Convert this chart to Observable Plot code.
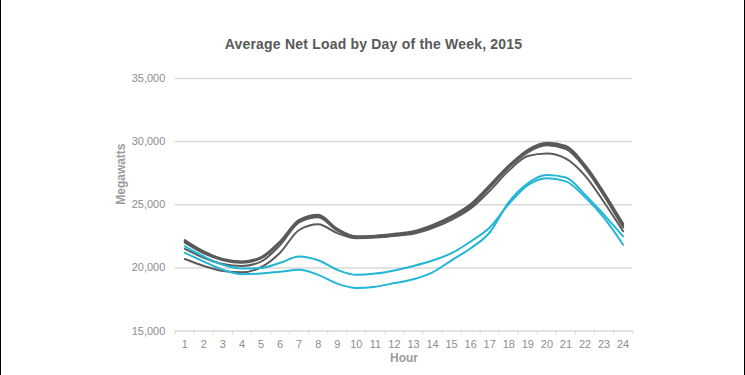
<!DOCTYPE html>
<html>
<head>
<meta charset="utf-8">
<script src="https://cdn.jsdelivr.net/npm/d3@7"></script>
<script src="https://cdn.jsdelivr.net/npm/@observablehq/plot@0.6"></script>
<style>
  html, body { margin: 0; padding: 0; background: #fff; }
  #wrap { position: relative; width: 745px; height: 375px; box-sizing: border-box;
          border-left: 1px solid #000; border-right: 1px solid #000; overflow: hidden;
          font-family: "Liberation Sans", Arial, sans-serif; }
  #title { position: absolute; top: 36px; left: 0; width: 745px; text-align: center;
           font-size: 14px; font-weight: bold; color: #595959; letter-spacing: 0.2px; }
  #chart { position: absolute; top: 0; left: -1px; }
  #chart svg text { font-family: "Liberation Sans", Arial, sans-serif; }
</style>
</head>
<body>
<div id="wrap">
  <div id="title">Average Net Load by Day of the Week, 2015</div>
  <div id="chart"></div>
</div>
<script>
const hours = [1,2,3,4,5,6,7,8,9,10,11,12,13,14,15,16,17,18,19,20,21,22,23,24];
const yTicks = [15000, 20000, 25000, 30000, 35000];
const days = ["Monday","Tuesday","Wednesday","Thursday","Friday","Saturday","Sunday"];
const weekdays = ["Monday","Tuesday","Wednesday","Thursday","Friday"];
const yLabel = "Megawatts";
const xLabel = "Hour";

const monday    = [20700,20150,19750,19650,20050,21200,23000,23450,22750,22350,22400,22550,22750,23250,23950,24850,26350,27950,29150,29700,29400,27900,25700,23200];
const tuesday   = [21500,20800,20300,20150,20500,21800,23600,24000,22950,22400,22450,22600,22800,23300,24000,24950,26450,28000,29250,29800,29550,28050,25850,23350];
const wednesday = [22100,21200,20650,20450,20800,22050,23750,24150,23050,22450,22500,22650,22850,23350,24050,25000,26500,28050,29300,29850,29600,28100,25900,23400];
const thursday  = [22200,21300,20700,20500,20850,22100,23800,24200,23100,22500,22550,22700,22900,23400,24100,25050,26550,28100,29350,29900,29650,28150,25950,23500];
const friday    = [22000,21150,20600,20400,20750,22000,23650,24050,23000,22450,22450,22550,22700,23150,23800,24700,26100,27700,28850,29050,28650,27300,25200,22900];
const saturday  = [21700,20900,20250,19950,20000,20400,20900,20600,19850,19450,19550,19800,20150,20580,21160,22090,23200,25050,26550,27100,26850,25600,23950,21830];
const sunday    = [21200,20500,19850,19500,19550,19700,19850,19450,18750,18400,18500,18800,19100,19650,20600,21550,22800,25200,26700,27350,27150,25800,24200,22500];

const series = [monday, tuesday, wednesday, thursday, friday, saturday, sunday];
const data = days.flatMap((d, i) => hours.map((h, j) => ({day: d, hour: h, value: series[i][j]})));
const boundaries = d3.range(0.5, 25, 1);

const chart = Plot.plot({
  width: 745,
  height: 375,
  marginLeft: 175,
  marginRight: 112,
  marginTop: 78,
  marginBottom: 44,
  style: {fontSize: "11px", color: "#8c8c8c", background: "transparent"},
  x: {domain: [0.5, 24.5]},
  y: {domain: [15000, 35000]},
  marks: [
    Plot.ruleY(yTicks, {stroke: "#d9d9d9", strokeWidth: 1.5}),
    Plot.axisY(yTicks, {tickSize: 0, tickPadding: 10, tickFormat: d3.format(","), fill: "#8c8c8c", label: null}),
    Plot.axisX(boundaries, {tickSize: 4, stroke: "#d9d9d9", tickFormat: () => "", label: null}),
    Plot.axisX(hours, {tickSize: 0, tickPadding: 9, fill: "#8c8c8c", tickFormat: d => String(d), label: null}),
    Plot.text([yLabel], {frameAnchor: "left", dx: -54, rotate: -90, fill: "#9a9a9a",
      fontWeight: "bold", fontSize: 12, text: d => d}),
    Plot.text([xLabel], {frameAnchor: "bottom", lineAnchor: "middle", dy: 27, fill: "#9a9a9a",
      fontWeight: "bold", fontSize: 12, text: d => d}),
    Plot.lineY(data, {x: "hour", y: "value", z: "day",
      stroke: d => weekdays.includes(d.day) ? "#5a5a5a" : "#23b6d4",
      strokeWidth: 2, curve: "monotone-x"})
  ]
});
document.getElementById("chart").appendChild(chart);
</script>
</body>
</html>
